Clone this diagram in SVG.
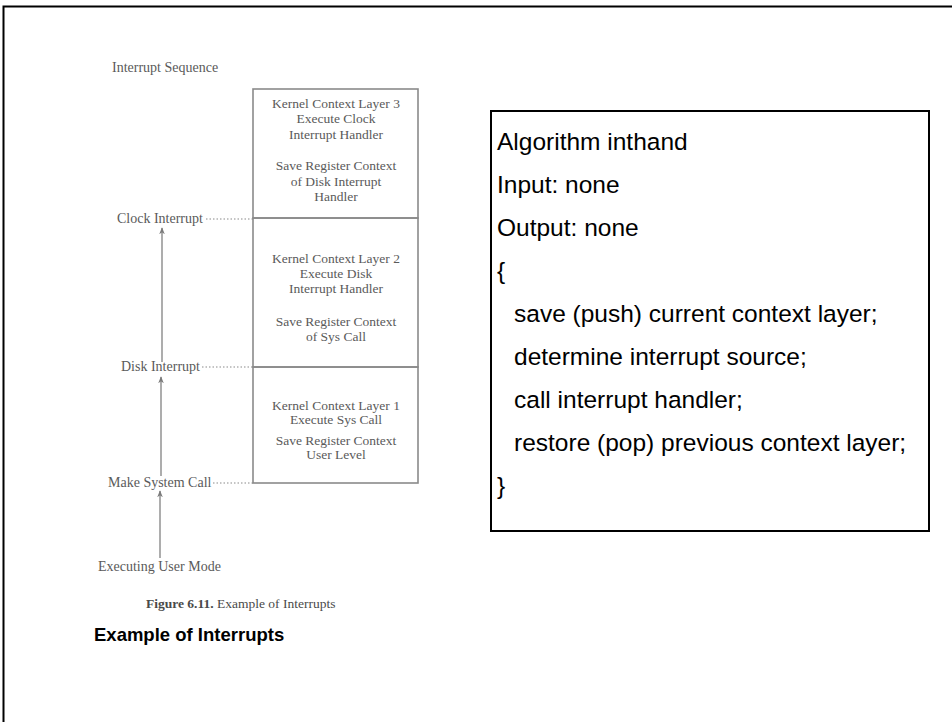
<svg xmlns="http://www.w3.org/2000/svg" width="952" height="722" viewBox="0 0 952 722">
<style>
.scan{font-family:"Liberation Serif","Times New Roman",serif;fill:#5a5a5a;font-size:13.5px}
.lab{font-family:"Liberation Serif","Times New Roman",serif;fill:#5a5a5a;font-size:14px}
.box{fill:none;stroke:#8a8a8a;stroke-width:1.6}
.dot{stroke:#8a8a8a;stroke-width:1.2;stroke-dasharray:1.5 2;fill:none}
.arr{stroke:#8a8a8a;stroke-width:1.4;fill:none}
.alg{font-family:"Liberation Sans",Arial,sans-serif;fill:#000;font-size:24.5px}
</style>
<defs>
<marker id="ah" viewBox="0 0 10 10" refX="9" refY="5" markerWidth="7" markerHeight="7" orient="auto" markerUnits="userSpaceOnUse">
<path d="M0,1 L10,5 L0,9 L3,5 Z" fill="#7a7a7a"/>
</marker>
</defs>
<rect x="0" y="0" width="952" height="722" fill="#fff"/>
<path d="M3.5,730 V6.5 H960" fill="none" stroke="#000" stroke-width="2"/>
<text class="lab" x="112" y="72">Interrupt Sequence</text>
<g id="layer3">
<rect class="box" x="253" y="89" width="165" height="129"/>
<text class="scan" text-anchor="middle" x="336" y="108">Kernel Context Layer 3</text>
<text class="scan" text-anchor="middle" x="336" y="123">Execute Clock</text>
<text class="scan" text-anchor="middle" x="336" y="139">Interrupt Handler</text>
<text class="scan" text-anchor="middle" x="336" y="170">Save Register Context</text>
<text class="scan" text-anchor="middle" x="336" y="186">of Disk Interrupt</text>
<text class="scan" text-anchor="middle" x="336" y="201">Handler</text>
</g>
<g id="layer2">
<rect class="box" x="253" y="218" width="165" height="149"/>
<text class="scan" text-anchor="middle" x="336" y="263">Kernel Context Layer 2</text>
<text class="scan" text-anchor="middle" x="336" y="278">Execute Disk</text>
<text class="scan" text-anchor="middle" x="336" y="293">Interrupt Handler</text>
<text class="scan" text-anchor="middle" x="336" y="326">Save Register Context</text>
<text class="scan" text-anchor="middle" x="336" y="341">of Sys Call</text>
</g>
<g id="layer1">
<rect class="box" x="253" y="367" width="165" height="116"/>
<text class="scan" text-anchor="middle" x="336" y="410">Kernel Context Layer 1</text>
<text class="scan" text-anchor="middle" x="336" y="424">Execute Sys Call</text>
<text class="scan" text-anchor="middle" x="336" y="445">Save Register Context</text>
<text class="scan" text-anchor="middle" x="336" y="459">User Level</text>
</g>
<g id="clock"><text class="lab" x="117" y="223">Clock Interrupt</text></g>
<g id="disk"><text class="lab" x="121" y="371">Disk Interrupt</text></g>
<g id="syscall"><text class="lab" x="108" y="487">Make System Call</text></g>
<g id="user"><text class="lab" x="98" y="571">Executing User Mode</text></g>
<g id="connectors">
<line class="dot" x1="206" y1="219" x2="253" y2="219"/>
<line class="dot" x1="202" y1="367" x2="253" y2="367"/>
<line class="dot" x1="213" y1="483" x2="253" y2="483"/>
<line class="arr" x1="162" y1="362" x2="162" y2="228" marker-end="url(#ah)"/>
<line class="arr" x1="161" y1="476" x2="161" y2="377" marker-end="url(#ah)"/>
<line class="arr" x1="160" y1="558" x2="160" y2="491" marker-end="url(#ah)"/>
</g>
<text x="146" y="608" style="font-family:'Liberation Serif','Times New Roman',serif;fill:#4a4a4a;font-size:13.5px"><tspan font-weight="bold">Figure 6.11.</tspan>  Example of Interrupts</text>
<g id="algorithm">
<rect x="491" y="111" width="438" height="420" fill="#fff" stroke="#000" stroke-width="2"/>
<text class="alg" x="497" y="150">Algorithm inthand</text>
<text class="alg" x="497" y="193">Input: none</text>
<text class="alg" x="497" y="236">Output: none</text>
<text class="alg" x="497" y="279">{</text>
<text class="alg" x="514" y="322">save (push) current context layer;</text>
<text class="alg" x="514" y="365">determine interrupt source;</text>
<text class="alg" x="514" y="408">call interrupt handler;</text>
<text class="alg" x="514" y="451">restore (pop) previous context layer;</text>
<text class="alg" x="497" y="494">}</text>
</g>
<text x="94" y="641" style="font-family:'Liberation Sans',Arial,sans-serif;font-weight:bold;font-size:18.5px;fill:#000">Example of Interrupts</text>
</svg>
